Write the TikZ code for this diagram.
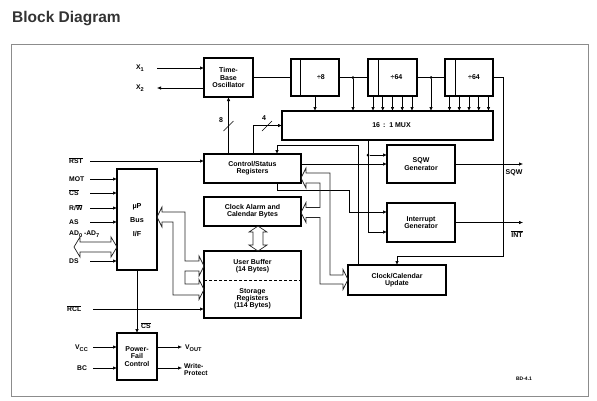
\documentclass[tikz,border=0pt]{standalone}
\usepackage{fontspec}
\setmainfont{Liberation Sans}
\usetikzlibrary{arrows.meta,calc}
\newcommand\ovl[1]{\leavevmode\vbox{\hrule height 0.5pt\kern0.8pt\hbox{#1}}}
\newcommand\lowsub[1]{\raisebox{-1.8pt}{\fontsize{5.6}{6}\selectfont #1}}
\begin{document}
\begin{tikzpicture}[x=1pt,y=-1pt,
  box/.style={draw, line width=1.2pt, inner sep=0pt, outer sep=0pt, align=center, font=\fontsize{7}{7.2}\selectfont\bfseries},
  txt/.style={inner sep=0pt, align=center, font=\fontsize{7}{7.2}\selectfont\bfseries},
  lbl/.style={inner sep=0pt, anchor=west, align=left, font=\fontsize{6.8}{7.5}\selectfont\bfseries},
  wire/.style={line width=0.6pt},
  arr/.style={wire, -{Latex[length=4pt,width=3.4pt]}},
  bus/.style={line width=0.7pt, draw=black!85, line join=miter},
  dot/.style={circle, fill, inner sep=0pt, minimum size=3pt}]

\useasboundingbox (0,0) rectangle (597,400);

% title and frame
\node[anchor=base west, inner sep=0pt, font=\fontsize{15.5}{17}\selectfont\bfseries, text=black!80] (title) at (12,22) {Block Diagram};
\draw[black!45, line width=0.8pt] (11,44) rectangle (588,396);

% blocks
\node[box, minimum width=49pt, minimum height=39pt] (osc) at (228.5,77.5) {Time-\\Base\\Oscillator};
\node[box, minimum width=48pt, minimum height=37pt] (div8) at (315,77.5) {};
\node[box, minimum width=49pt, minimum height=37pt] (div64a) at (392.5,77.5) {};
\node[box, minimum width=48pt, minimum height=37pt] (div64b) at (469,77.5) {};
\draw[line width=0.8pt] ([xshift=9.7pt]div8.north west) -- ([xshift=9.7pt]div8.south west);
\draw[line width=0.8pt] ([xshift=10pt]div64a.north west) -- ([xshift=10pt]div64a.south west);
\draw[line width=0.8pt] ([xshift=10pt]div64b.north west) -- ([xshift=10pt]div64b.south west);
\node[txt] (t8) at ([xshift=6pt]div8.center) {÷8};
\node[txt] (t64a) at ([xshift=4pt]div64a.center) {÷64};
\node[txt] (t64b) at ([xshift=5pt]div64b.center) {÷64};

\node[box, minimum width=211pt, minimum height=29pt] (mux) at (387.5,125.5) {};
\node[txt] (tmux) at (391.5,125.5) {16 \,:\, 1 MUX};

\node[box, minimum width=97pt, minimum height=29pt] (ctrl) at (252.5,168.5) {Control/Status\\Registers};
\node[box, minimum width=97pt, minimum height=29pt] (alarm) at (252.5,211.5) {Clock Alarm and\\Calendar Bytes};
\node[box, minimum width=97pt, minimum height=67pt] (ram) at (252.5,284.5) {};
\draw[wire, dashed, dash pattern=on 3pt off 2pt] ([yshift=4.5pt]ram.west) -- ([yshift=4.5pt]ram.east);
\node[txt] (tub) at (252.5,266.5) {User Buffer\\(14 Bytes)};
\node[txt] (tsr) at (252.5,299) {Storage\\Registers\\(114 Bytes)};

\node[box, minimum width=40pt, minimum height=101pt] (mpu) at (137,219.5) {};
\node[txt, font=\fontsize{7.2}{14}\selectfont\bfseries] (tmpu) at (137,220) {µP\\Bus\\I/F};
\node[box, minimum width=40pt, minimum height=47pt] (pfc) at (137,356.5) {Power-\\Fail\\Control};

\node[box, minimum width=68pt, minimum height=38pt] (sqw) at (421,164) {SQW\\Generator};
\node[box, minimum width=68pt, minimum height=39pt] (intg) at (421,222.5) {Interrupt\\Generator};
\node[box, minimum width=98pt, minimum height=30pt] (upd) at (397,280) {Clock/Calendar\\Update};

% oscillator inputs
\coordinate (x1) at (157,68);
\coordinate (x2) at (157,88);
\draw[arr] (x1) -- (x1 -| osc.west);
\draw[arr] (x2 -| osc.west) -- (x2);
\node[lbl] (lx1) at (136,68) {X\lowsub{1}};
\node[lbl] (lx2) at (136,88) {X\lowsub{2}};

% divider chain
\draw[wire] (osc.east) -- (div8.west);
\draw[wire] (div8.east) -- (div64a.west);
\draw[wire] (div64a.east) -- (div64b.west);
\node[dot] (da) at (353,77.5) {};
\node[dot] (db) at (431,77.5) {};
\draw[arr] (da) -- (da |- mux.north);
\draw[arr] (db) -- (db |- mux.north);
\draw[arr] (div8.south) -- (div8.south |- mux.north);
\foreach \dx in {-19.5,-9.75,0,9.75,19.5}{
  \path ([xshift=\dx pt]div64a.south) coordinate (ta);
  \draw[arr] (ta) -- (ta |- mux.north);
  \path ([xshift=\dx pt]div64b.south) coordinate (tb);
  \draw[arr] (tb) -- (tb |- mux.north);
}
\coordinate (r1) at (503,256);
\coordinate (updin) at (397,256);
\draw[arr] (div64b.east) -| (r1) -- (updin) -- (upd.north);

% 8 and 4 buses
\draw[arr] (ctrl.north -| osc.south) -- (osc.south);
\draw[wire] (223.5,131) -- (233.5,121);
\node[txt] (l8) at (221,120) {8};
\coordinate (c4) at (253,154);
\draw[arr] (c4) |- (mux.west);
\draw[wire] (262,131) -- (272,121);
\node[txt] (l4) at (264,118.5) {4};

% mux to generators
\coordinate (m1) at (368,140);
\coordinate (ig2) at (387,232);
\draw[arr] (m1) |- (ig2);
\node[dot] (dm) at (368,155) {};
\draw[arr] (dm) -- (dm -| sqw.west);
\draw[arr] (ctrl.east |- sqw.west) -- (sqw.west);

% update -> control, control -> interrupt
\coordinate (u1) at (358,265);
\coordinate (k) at (358,145);
\coordinate (c1) at (277,154);
\draw[arr] (u1) -- (k) -| (c1);
\coordinate (c2) at (277,183);
\coordinate (j) at (349,190);
\coordinate (ig1) at (387,212);
\draw[arr] (c2) |- (j) |- (ig1);

% outputs
\coordinate (sqwo) at (523,164);
\coordinate (into) at (523,222.5);
\draw[arr] (sqw.east) -- (sqwo);
\draw[arr] (intg.east) -- (into);
\node[txt] (lsqw) at (514,173) {SQW};
\node[txt] (lint) at (517,234) {\ovl{INT}};

% hollow bus: update <-> control / alarm
\draw[bus] (343,275) -- (330,275) -- (330,173) -- (306,173) -- (306,168) -- (301,178) -- (306,188) -- (306,183)
  -- (320,183) -- (320,207.5) -- (306,207.5) -- (306,202.5) -- (301,212.5) -- (306,222.5) -- (306,217.5)
  -- (320,217.5) -- (320,284) -- (343,284) -- (343,289.5) -- (348,279.5) -- (343,269.5) -- cycle;

% hollow bus: uP <-> RAM
\draw[bus] (199,261) -- (185,261) -- (185,212) -- (162,212) -- (162,207) -- (157,217) -- (162,227) -- (162,222)
  -- (173,222) -- (173,295) -- (199,295) -- (199,299.5) -- (204,289.5) -- (199,279.5) -- (199,284)
  -- (185,284) -- (185,271) -- (199,271) -- (199,276) -- (204,266) -- (199,256) -- cycle;

% alarm <-> RAM double arrow
\draw[bus] (253,232) -- (249,232) -- (258,226) -- (267,232) -- (263,232) -- (263,245) -- (267,245)
  -- (258,251) -- (249,245) -- (253,245) -- cycle;

% AD bus double arrow
\draw[bus] (80,242) -- (80,237) -- (74,247) -- (80,257) -- (80,252) -- (111,252) -- (111,257)
  -- (117,247) -- (111,237) -- (111,242) -- cycle;

% left inputs
\coordinate (rst) at (90,161);
\draw[arr] (rst) -- (rst -| ctrl.west);
\node[lbl] (lrst) at (69,161) {\ovl{RST}};
\foreach \yy/\nn in {179/mot,193/cs,208/rw,222/as,261/ds}{
  \coordinate (\nn) at (90,\yy);
  \draw[arr] (\nn) -- (\nn -| mpu.west);
}
\node[lbl] (lmot) at (69,179) {MOT};
\node[lbl] (lcs) at (69,193) {\ovl{CS}};
\node[lbl] (lrw) at (69,208) {R/\ovl{W}};
\node[lbl] (las) at (69,222) {AS};
\node[lbl] (lad) at (69,234.5) {AD\lowsub{0} -AD\lowsub{7}};
\node[lbl] (lds) at (69,261) {DS};

\coordinate (rcl) at (93,309);
\draw[arr] (rcl) -- (rcl -| ram.west);
\node[lbl] (lrcl) at (67,309) {\ovl{RCL}};

% power-fail
\draw[arr] (mpu.south) -- (pfc.north);
\node[lbl] (lcs2) at (141,326) {\ovl{CS}};
\coordinate (vcc) at (93,347);
\coordinate (bc) at (93,368);
\draw[arr] (vcc) -- (vcc -| pfc.west);
\draw[arr] (bc) -- (bc -| pfc.west);
\node[lbl] (lvcc) at (75,348) {V\lowsub{CC}};
\node[lbl] (lbc) at (77,368) {BC};
\coordinate (vo) at (182,347);
\coordinate (wp) at (182,368);
\draw[arr] (vo -| pfc.east) -- (vo);
\draw[arr] (wp -| pfc.east) -- (wp);
\node[lbl] (lvo) at (185,348) {V\lowsub{OUT}};
\node[lbl, anchor=north west] (lwp) at (184,363) {Write-\\Protect};

\node[txt, font=\fontsize{5}{6}\selectfont\bfseries] (code) at (524,379) {BD-4.1};
\end{tikzpicture}
\end{document}
